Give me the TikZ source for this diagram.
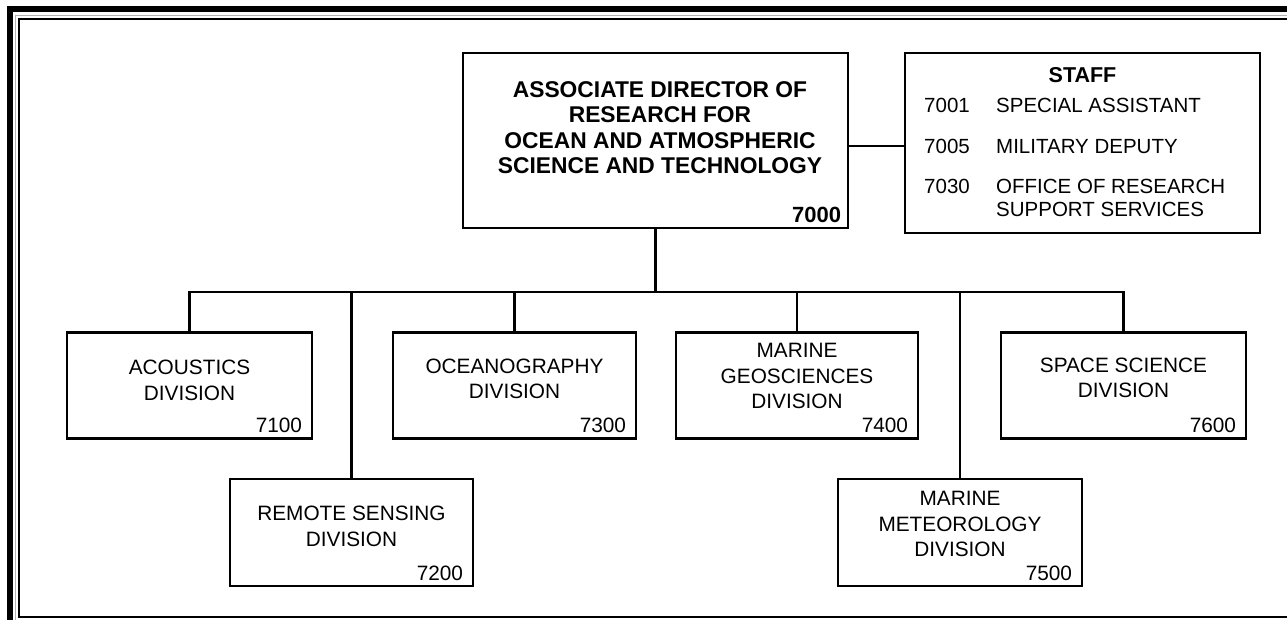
\documentclass[tikz,border=0pt]{standalone}
\usepackage{fontspec}
\setmainfont{Liberation Sans}
\begin{document}
\begin{tikzpicture}[x=1pt,y=-1pt,
  box/.style={draw, line width=2.5pt, inner sep=0pt},
  conn/.style={line width=2.2pt},
  lbl/.style={align=center, inner sep=0pt, font=\fontsize{20.8}{25.5}\selectfont},
  blbl/.style={align=center, inner sep=0pt, font=\fontsize{22.8}{25.5}\selectfont\bfseries},
  num/.style={anchor=base east, inner sep=0pt, font=\fontsize{20.8}{25}\selectfont},
  lft/.style={anchor=base west, inner sep=0pt, font=\fontsize{20.5}{25}\selectfont}]
\useasboundingbox (0,0) rectangle (1287,620);
% frame
\fill[black] (7,6) rectangle (1287,12);
\fill[black] (7,6) rectangle (13,620);
\draw[black!30, line width=1pt] (15.5,620) -- (15.5,15.5) -- (1287,15.5);
\draw[line width=1.6pt] (1287,19) -- (19,19) -- (19,617) -- (1287,617);
% boxes
\node[box, minimum width=385pt, minimum height=175pt] (main) at (655.5,140.5) {};
\node[box, minimum width=355pt, minimum height=180pt] (staff) at (1082.5,143) {};
\node[box, minimum width=245pt, minimum height=106pt] (acou) at (189.5,385.5) {};
\node[box, minimum width=243pt, minimum height=107pt] (remote) at (351.5,532.5) {};
\node[box, minimum width=243pt, minimum height=106pt] (ocean) at (514.5,385.5) {};
\node[box, minimum width=242pt, minimum height=106pt] (geo) at (797,385.5) {};
\node[box, minimum width=244pt, minimum height=107pt] (meteo) at (960,532.5) {};
\node[box, minimum width=245pt, minimum height=106pt] (space) at (1123.5,385.5) {};
% texts
\node[blbl] (maint) at (660,127.5) {ASSOCIATE DIRECTOR OF\\RESEARCH FOR\\OCEAN AND ATMOSPHERIC\\SCIENCE AND TECHNOLOGY};
\node[anchor=base east, inner sep=0pt, font=\fontsize{22}{25}\selectfont\bfseries] (mainn) at ([xshift=-8pt,yshift=7pt]main.south east) {7000};
\node[anchor=base, inner sep=0pt, font=\fontsize{21.5}{25}\selectfont\bfseries] (stafft) at (1082.5,82.5) {STAFF};
\node[lft] (s1n) at (924,113) {7001};
\node[lft] (s1t) at (996,113) {SPECIAL ASSISTANT};
\node[lft] (s2n) at (924,153.5) {7005};
\node[lft] (s2t) at (996,153.5) {MILITARY DEPUTY};
\node[lft] (s3n) at (924,194) {7030};
\node[lft] (s3t) at (996,194) {OFFICE OF RESEARCH};
\node[lft] (s4t) at (996,216.5) {SUPPORT SERVICES};
\node[lbl] (acout) at (189.5,380.5) {ACOUSTICS\\DIVISION};
\node[num] (acoun) at ([xshift=-11pt,yshift=7pt]acou.south east) {7100};
\node[lbl] (remotet) at (351.5,526.5) {REMOTE SENSING\\DIVISION};
\node[num] (remoten) at ([xshift=-11pt,yshift=7pt]remote.south east) {7200};
\node[lbl] (oceant) at (514.5,379) {OCEANOGRAPHY\\DIVISION};
\node[num] (oceann) at ([xshift=-11pt,yshift=7pt]ocean.south east) {7300};
\node[lbl] (geot) at (797,376) {MARINE\\GEOSCIENCES\\DIVISION};
\node[num] (geon) at ([xshift=-11pt,yshift=7pt]geo.south east) {7400};
\node[lbl] (meteot) at (960,524) {MARINE\\METEOROLOGY\\DIVISION};
\node[num] (meteon) at ([xshift=-11pt,yshift=7pt]meteo.south east) {7500};
\node[lbl] (spacet) at (1123.5,378) {SPACE SCIENCE\\DIVISION};
\node[num] (spacen) at ([xshift=-11pt,yshift=7pt]space.south east) {7600};
% connectors
\coordinate (bus) at (655.5,292);
\draw[conn] (main.east |- 0,146) -- (staff.west |- 0,146);
\draw[conn] (main.south) -- (bus);
\draw[conn] (acou.north) -- (acou.north |- bus) -- (space.north |- bus) -- (space.north);
\draw[conn] (remote.north) -- (remote.north |- bus);
\draw[conn] (ocean.north) -- (ocean.north |- bus);
\draw[conn] (geo.north) -- (geo.north |- bus);
\draw[conn] (meteo.north) -- (meteo.north |- bus);
\end{tikzpicture}
\end{document}
